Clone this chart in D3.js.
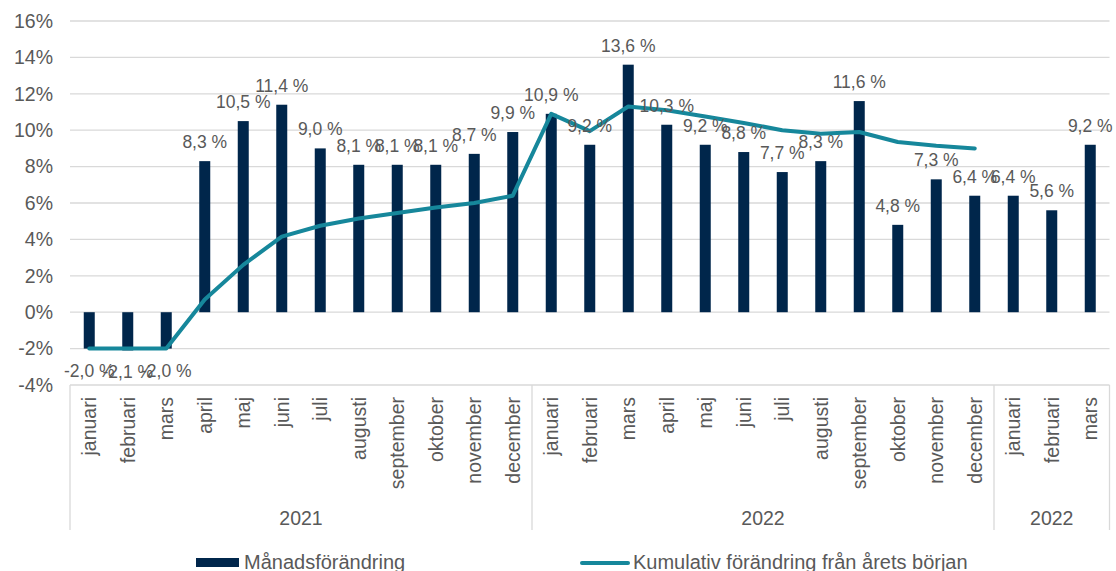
<!DOCTYPE html>
<html>
<head>
<meta charset="utf-8">
<script src="https://cdn.jsdelivr.net/npm/d3@7"></script>
<style>
  body { margin: 0; background: #fff; }
  text { font-family: "Liberation Sans", Arial, sans-serif; fill: #595959; }
</style>
</head>
<body>
<div id="chart"></div>
<script>
// month labels and year groups
var months = ["januari", "februari", "mars", "april", "maj", "juni", "juli", "augusti",
  "september", "oktober", "november", "december",
  "januari", "februari", "mars", "april", "maj", "juni", "juli", "augusti",
  "september", "oktober", "november", "december",
  "januari", "februari", "mars"];
var years = [
  {label: "2021", start: 0, end: 12},
  {label: "2022", start: 12, end: 24},
  {label: "2022", start: 24, end: 27}
];

// monthly change (bars), percent
var monthly = [-2.0, -2.1, -2.0, 8.3, 10.5, 11.4, 9.0, 8.1, 8.1, 8.1, 8.7, 9.9,
  10.9, 9.2, 13.6, 10.3, 9.2, 8.8, 7.7, 8.3, 11.6, 4.8, 7.3, 6.4,
  6.4, 5.6, 9.2];

// cumulative change since start of year (line), percent -- ends december 2022
var cumulative = [-2.0, -2.0, -2.0, 0.7, 2.6, 4.15, 4.75, 5.15, 5.45, 5.75, 6.0, 6.4,
  10.9, 9.95, 11.3, 11.1, 10.75, 10.4, 10.0, 9.8, 9.9, 9.35, 9.15, 9.0];

var yTicks = [-4, -2, 0, 2, 4, 6, 8, 10, 12, 14, 16];

var W = 1116, H = 571;
var margin = {top: 21, right: 6.5, left: 70};
var plotBottom = 385;

var svg = d3.select("#chart")
  .append("svg")
  .attr("width", W)
  .attr("height", H);

var idx = d3.range(months.length);

var x = d3.scaleBand()
  .domain(idx)
  .range([margin.left, W - margin.right]);

var y = d3.scaleLinear()
  .domain([-4, 16])
  .range([plotBottom, margin.top]);

var fmt = function(v) { return v.toFixed(1).replace(".", ",") + " %"; };

// gridlines
svg.append("g")
  .selectAll("line")
  .data(yTicks)
  .enter()
  .append("line")
  .attr("x1", margin.left)
  .attr("x2", W - margin.right)
  .attr("y1", d => y(d))
  .attr("y2", d => y(d))
  .attr("stroke", "#d9d9d9")
  .attr("stroke-width", 1.3);

// y axis labels
svg.append("g")
  .selectAll("text")
  .data(yTicks)
  .enter()
  .append("text")
  .attr("x", 53)
  .attr("y", d => y(d))
  .attr("dy", "0.35em")
  .attr("text-anchor", "end")
  .style("font-size", "19.5px")
  .text(d => d + "%");

// bars
var barW = 11;
svg.append("g")
  .selectAll("rect")
  .data(monthly)
  .enter()
  .append("rect")
  .attr("x", (d, i) => x(i) + x.bandwidth() / 2 - barW / 2)
  .attr("y", d => d >= 0 ? y(d) : y(0))
  .attr("width", barW)
  .attr("height", d => Math.abs(y(d) - y(0)))
  .attr("fill", "#00264b");

// cumulative line
var line = d3.line()
  .x((d, i) => x(i) + x.bandwidth() / 2)
  .y(d => y(d));

svg.append("path")
  .datum(cumulative)
  .attr("d", line)
  .attr("fill", "none")
  .attr("stroke", "#16879b")
  .attr("stroke-width", 4)
  .attr("stroke-linejoin", "round")
  .attr("stroke-linecap", "round");

// data labels
svg.append("g")
  .selectAll("text")
  .data(monthly)
  .enter()
  .append("text")
  .attr("x", (d, i) => x(i) + x.bandwidth() / 2)
  .attr("y", d => d >= 0 ? y(d) - 13 : y(d) + 28)
  .attr("text-anchor", "middle")
  .style("font-size", "17.5px")
  .text(d => fmt(d));

// category axis box
var axisBottom = 530;
var ax = svg.append("g");
var bounds = [0].concat(years.map(d => d.end));
ax.selectAll("line.sep")
  .data(bounds)
  .enter()
  .append("line")
  .attr("class", "sep")
  .attr("x1", d => d < months.length ? x(d) : W - margin.right)
  .attr("x2", d => d < months.length ? x(d) : W - margin.right)
  .attr("y1", plotBottom)
  .attr("y2", axisBottom)
  .attr("stroke", "#d9d9d9")
  .attr("stroke-width", 1.3);

ax.selectAll("text.month")
  .data(months)
  .enter()
  .append("text")
  .attr("class", "month")
  .attr("transform", (d, i) => "translate(" + (x(i) + x.bandwidth() / 2) + ",397) rotate(-90)")
  .attr("dy", "0.35em")
  .attr("text-anchor", "end")
  .style("font-size", "19.5px")
  .text(d => d);

ax.selectAll("text.year")
  .data(years)
  .enter()
  .append("text")
  .attr("class", "year")
  .attr("x", d => {
    var x0 = x(d.start);
    var x1 = d.end < months.length ? x(d.end) : W - margin.right;
    return (x0 + x1) / 2;
  })
  .attr("y", 525)
  .attr("text-anchor", "middle")
  .style("font-size", "19.5px")
  .text(d => d.label);

// legend
var legend = svg.append("g");
legend.append("rect")
  .attr("x", 196)
  .attr("y", 558)
  .attr("width", 43)
  .attr("height", 9)
  .attr("fill", "#00264b");
legend.append("text")
  .attr("x", 244)
  .attr("y", 569)
  .style("font-size", "20px")
  .text("Månadsförändring");
legend.append("line")
  .attr("x1", 582)
  .attr("x2", 628)
  .attr("y1", 563)
  .attr("y2", 563)
  .attr("stroke", "#16879b")
  .attr("stroke-width", 4)
  .attr("stroke-linecap", "round");
legend.append("text")
  .attr("x", 633)
  .attr("y", 569)
  .style("font-size", "20px")
  .text("Kumulativ förändring från årets början");
</script>
</body>
</html>
